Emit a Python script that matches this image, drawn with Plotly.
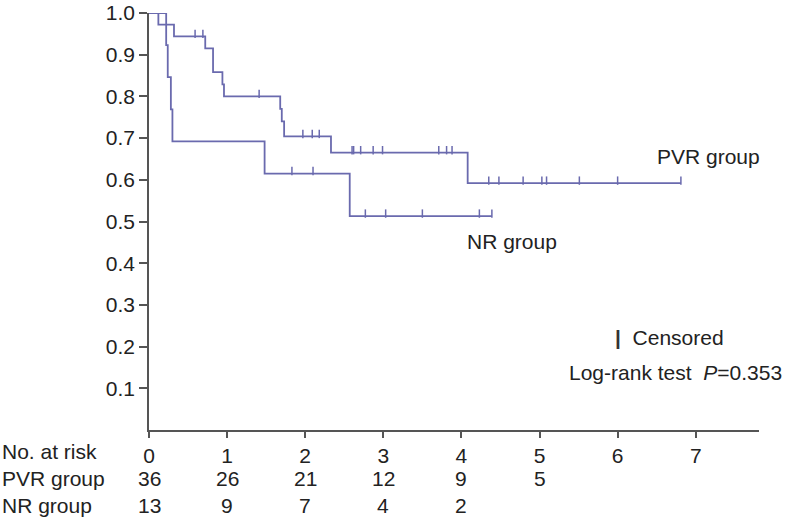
import plotly.graph_objects as go

# ---- data ----
pvr_step_time = [0, 0.12, 0.32, 0.72, 0.82, 0.94, 0.96, 1.68, 1.70, 1.73, 2.33, 4.08]
pvr_step_surv = [1.0, 0.972, 0.944, 0.915, 0.858, 0.829, 0.800, 0.770, 0.740, 0.704, 0.665, 0.592]
pvr_end = 6.81
pvr_censor = [0.59, 0.69, 1.41, 1.97, 2.09, 2.18, 2.60, 2.62, 2.71, 2.87, 2.99,
              3.71, 3.81, 3.88, 4.35, 4.48, 4.79, 5.03, 5.09, 5.51, 6.00, 6.81]

nr_step_time = [0, 0.22, 0.24, 0.28, 0.30, 1.48, 2.57]
nr_step_surv = [1.0, 0.923, 0.846, 0.769, 0.692, 0.615, 0.513]
nr_end = 4.39
nr_censor = [1.83, 2.10, 2.77, 3.03, 3.50, 4.23, 4.39]

risk_times = [0, 1, 2, 3, 4, 5, 6, 7]
risk_pvr = [36, 26, 21, 12, 9, 5]
risk_nr = [13, 9, 7, 4, 2]

y_ticks = [0.1, 0.2, 0.3, 0.4, 0.5, 0.6, 0.7, 0.8, 0.9, 1.0]

LINE = "#6a6aae"
AX = "#555555"
TXT = "#222222"
FONT = "Liberation Sans, Arial, Helvetica, sans-serif"
FS = 21


def surv_at(t, times, survs):
    s = survs[0]
    for tt, ss in zip(times, survs):
        if tt <= t:
            s = ss
    return s


fig = go.Figure()
for times, survs, end, cens in [
    (pvr_step_time, pvr_step_surv, pvr_end, pvr_censor),
    (nr_step_time, nr_step_surv, nr_end, nr_censor),
]:
    xs = list(times) + [end]
    ys = list(survs) + [survs[-1]]
    fig.add_trace(go.Scatter(x=xs, y=ys, mode="lines", line=dict(color=LINE, width=1.8, shape="hv"),
                             hoverinfo="skip", showlegend=False, cliponaxis=False))
    cy = [surv_at(t, times, survs) + 0.006 for t in cens]
    fig.add_trace(go.Scatter(x=cens, y=cy, mode="markers",
                             marker=dict(symbol="line-ns", size=6, line=dict(color=LINE, width=1.5)),
                             hoverinfo="skip", showlegend=False, cliponaxis=False))

ann = []
ann.append(dict(x=6.48, y=0.657, xref="x", yref="y", text="PVR group", showarrow=False,
                xanchor="left", yanchor="middle"))
ann.append(dict(x=4.05, y=0.451, xref="x", yref="y", text="NR group", showarrow=False,
                xanchor="left", yanchor="middle"))
ann.append(dict(x=5.94, y=0.223, xref="x", yref="y",
                text="<span style='color:#333333'><b>|</b></span>\u00a0\u00a0Censored", showarrow=False,
                xanchor="left", yanchor="middle"))
ann.append(dict(x=5.35, y=0.139, xref="x", yref="y", text="Log-rank test\u00a0\u00a0<i>P</i>=0.353",
                showarrow=False, xanchor="left", yanchor="middle"))

plot_h = 520 - 13 - 90
plot_w = 788 - 149 - 29


def py(pix):
    return (430 - pix) / plot_h


rows = [("No. at risk", 452), ("PVR group", 478), ("NR group", 505)]
for label, pix in rows:
    ann.append(dict(x=-149 / plot_w, y=py(pix), xref="paper", yref="paper", text=label,
                    showarrow=False, xanchor="left", yanchor="middle"))
for t, n in zip(risk_times, risk_pvr):
    ann.append(dict(x=t, y=py(478), xref="x", yref="paper", text=str(n), showarrow=False,
                    xanchor="center", yanchor="middle"))
for t, n in zip(risk_times, risk_nr):
    ann.append(dict(x=t, y=py(505), xref="x", yref="paper", text=str(n), showarrow=False,
                    xanchor="center", yanchor="middle"))

fig.update_layout(
    width=788, height=520,
    margin=dict(l=149, r=29, t=13, b=90, autoexpand=False),
    paper_bgcolor="white", plot_bgcolor="white",
    font=dict(family=FONT, size=FS, color=TXT),
    annotations=ann,
    showlegend=False,
)
fig.update_xaxes(range=[0, 7.81], tickvals=risk_times, ticktext=[str(t) for t in risk_times],
                 showline=True, linecolor=AX, linewidth=1.5, ticks="outside", ticklen=6,
                 tickcolor=AX, tickwidth=1.5, showgrid=False, zeroline=False, automargin=False,
                 tickfont=dict(family=FONT, size=FS, color=TXT))
fig.update_yaxes(range=[0, 1.0], tickvals=y_ticks, ticktext=[f"{v:.1f}" for v in y_ticks],
                 showline=True, linecolor=AX, linewidth=1.5, ticks="outside", ticklen=8,
                 tickcolor=AX, tickwidth=1.5, showgrid=False, zeroline=False, automargin=False,
                 tickfont=dict(family=FONT, size=FS, color=TXT))

fig.write_html("out.html", config={"displayModeBar": False},
               post_script="document.body.style.margin='0px';")
